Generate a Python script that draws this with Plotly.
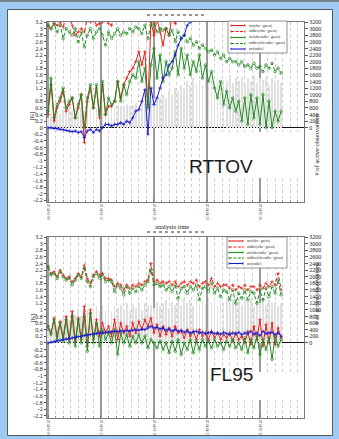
import plotly.graph_objects as go
import pandas as pd

W, H = 339, 439
START = "2014-01-08"
N = 78
dates = pd.date_range(START, periods=N, freq="2D")

legend_labels = ["avr(obs - guess)", "stddev(obs - guess)", "avr(obs radio - guess)",
                 "stddev(obs radio - guess)", "avr(radio)"]

k_ticks = [3.2, 3, 2.8, 2.6, 2.4, 2.2, 2, 1.8, 1.6, 1.4, 1.2, 1, 0.8, 0.6, 0.4, 0.2, 0,
           -0.2, -0.4, -0.6, -0.8, -1, -1.2, -1.4, -1.6, -1.8, -2, -2.2]
k_labels = ["3.2", "3", "2.8", "2.6", "2.4", "2.2", "2", "1.8", "1.6", "1.4", "1.2", "1", "0.8",
            "0.6", "0.4", "0.2", "0", "-0.2", "-0.4", "-0.6", "-0.8", "-1", "-1.2", "-1.4",
            "-1.6", "-1.8", "-2", "-2.2"]
obs_ticks = [0, 200, 400, 600, 800, 1000, 1200, 1400, 1600, 1800, 2000, 2200, 2400, 2600,
             2800, 3000, 3200]

# ---------------- RTTOV (top) ----------------
rttov_avg_obs = [0.4, 1.3, 0.2, 0.6, 0.8, 1.1, 0.5, 0.7, 0.9, 0.3,
                 0.6, 1.0, -0.45, 0.8, 1.2, 0.6, 1.2, 0.3, 1.3, 0.4,
                 0.65, 0.65, 0.8, 1.4, 0.9, 1.3, 1.5, 1.7, 1.8, 2.0,
                 2.3, 1.9, 2.3, 0.7, 3.2, 2.8, 3.3, 2.9, 2.5, 3.0,
                 2.8, 3.4, 3.15, 3.5, 3.8, 3.6, 3.9, 4.0, 3.8, 4.1,
                 4.0, 4.2, 4.1, 4.3, 4.0, 4.2, 4.1, 4.4, 4.2, 4.3,
                 4.1, 4.3, 4.2, 4.4, 4.1, 4.3, 4.2, 4.4, 4.1, 4.3,
                 4.2, 4.4, 4.1, 4.3, 4.2, 4.4, 4.1, 4.3]
rttov_std_obs = [3.1, 3.0, 3.15, 3.1, 3.2, 3.05, 3.3, 3.4, 3.1, 2.8,
                 2.9, 3.0, 2.9, 3.3, 3.2, 3.3, 3.1, 3.15, 3.2, 3.3,
                 3.15, 3.1, 3.4, 3.3, 3.5, 3.6, 3.5, 3.7, 3.6, 3.8,
                 3.9, 3.8, 4.0, 3.9, 4.1, 4.2, 4.0, 4.3, 4.2, 4.4,
                 4.3, 4.5, 4.4, 4.6, 4.5, 4.7, 4.6, 4.8, 4.7, 4.9,
                 4.8, 5.0, 4.9, 5.0, 4.8, 5.1, 4.9, 5.0, 4.8, 5.0,
                 4.9, 5.1, 4.8, 5.0, 4.9, 5.1, 4.8, 5.0, 4.9, 5.1,
                 4.8, 5.0, 4.9, 5.1, 4.8, 5.0, 4.9, 5.0]
rttov_avg_rad = [0.5, 1.5, 0.3, 0.7, 0.9, 1.2, 0.6, 0.8, 0.9, 0.3,
                 0.7, 1.0, 0.0, 0.9, 1.3, 0.6, 1.3, 0.4, 1.4, 0.4,
                 0.9, 0.7, 0.8, 1.4, 0.8, 1.3, 1.0, 1.4, 1.6, 1.5,
                 2.0, 1.4, 1.8, 0.6, 1.9, 2.4, 1.5, 2.2, 1.4, 2.0,
                 1.6, 1.8, 2.3, 1.6, 2.4, 1.8, 2.2, 1.6, 2.0, 1.7,
                 2.2, 1.5, 1.9, 1.4, 1.7, 1.2, 0.9, 1.4, 0.7, 1.1,
                 0.6, 0.9, 0.5, 0.8, 0.2, 0.9, 0.1, 1.0, 0.3, 0.9,
                 0.1, 1.0, 0.0, 0.8, 0.0, 0.5, 0.2, 0.5]
rttov_std_rad = [3.1, 3.0, 3.15, 2.9, 3.1, 2.7, 3.0, 2.9, 2.8, 3.0,
                 2.6, 2.9, 2.45, 2.8, 3.0, 2.7, 2.9, 3.0, 2.8, 2.5,
                 2.9, 2.7, 2.85, 3.0, 2.8, 2.9, 2.85, 3.0, 2.9, 3.05,
                 3.0, 2.85, 3.1, 2.7, 3.1, 3.15, 2.9, 3.0, 2.95, 3.0,
                 2.8, 2.95, 2.6, 2.9, 2.7, 2.8, 2.6, 2.7, 2.5, 2.6,
                 2.4, 2.5, 2.4, 2.3, 2.35, 2.2, 2.3, 2.1, 2.2, 2.0,
                 2.1, 2.0, 2.0, 1.9, 2.0, 1.85, 1.9, 1.8, 1.95, 1.8,
                 1.85, 1.7, 1.9, 1.8, 1.95, 1.7, 1.8, 1.65]
rttov_avg_radio = [0.0, 0.0, -0.02, -0.03, -0.05, -0.06, -0.08, -0.1, -0.12, -0.1,
                   -0.15, -0.12, -0.3, -0.1, -0.05, -0.15, -0.05, -0.1, 0.0, 0.1,
                   0.1, 0.05, 0.1, 0.1, 0.15, 0.1, 0.2, 0.15, 0.3, 0.5,
                   0.55, 0.8, 1.15, -0.2, 1.2, 0.7, 0.9, 1.2, 1.5, 1.6,
                   1.9, 2.0, 2.2, 2.5, 2.7, 2.8, 3.1, 3.2, 3.25, 3.3,
                   3.4, 3.5, 3.45, 3.6, 3.55, 3.7, 3.65, 3.8, 3.7, 3.75,
                   3.85, 3.8, 3.9, 3.85, 3.95, 3.9, 4.0, 3.95, 4.05, 4.0,
                   4.1, 4.05, 4.1, 4.15, 4.1, 4.2, 4.15, 4.2]
rttov_nobs = [300, 400, 450, 500, 400, 550, 500, 600, 500, 550,
              450, 600, 500, 550, 600, 500, 600, 550, 650, 600,
              550, 650, 600, 700, 650, 600, 700, 650, 700, 750,
              700, 800, 750, 850, 800, 900, 850, 900, 1000, 900,
              1100, 1000, 1200, 1100, 1300, 1200, 1400, 1300, 1500, 1350,
              1450, 1300, 1500, 1350, 1550, 1400, 1500, 1300, 1450, 1400,
              1600, 1350, 1500, 1400, 1550, 1300, 1500, 1400, 1600, 1350,
              1500, 1450, 1550, 1300, 1500, 1400, 1450, 1350]

# ---------------- FL95 (bottom) ----------------
fl95_avg_obs = [0.5, 0.3, 0.75, 0.2, 0.65, 0.15, 0.8, 0.1, 0.95, 0.05,
                0.75, 0.1, 1.1, -0.1, 1.0, 0.1, 0.7, 0.2, 0.6, 0.3,
                0.5, 0.2, 0.7, 0.1, 0.6, 0.3, 0.5, 0.2, 0.6, 0.3,
                0.65, 0.4, 0.7, 0.5, 0.75, 0.3, 0.55, 0.2, 0.5, 0.25,
                0.45, 0.2, 0.5, 0.3, 0.35, 0.15, 0.4, 0.2, 0.35, 0.1,
                0.4, 0.2, 0.3, 0.1, 0.35, 0.15, 0.3, 0.1, 0.25, 0.15,
                0.3, 0.05, 0.3, 0.1, 0.2, 0.0, 0.35, -0.05, 0.5, 0.1,
                0.7, -0.1, 0.55, 0.0, 0.6, -0.05, 0.45, 0.15]
fl95_std_obs = [2.3, 2.1, 2.15, 2.0, 2.2, 2.05, 1.95, 2.0, 1.85, 1.95,
                2.1, 2.0, 2.35, 1.95, 1.8, 2.05, 2.15, 2.05, 2.1, 1.95,
                1.95, 1.9, 1.7, 1.8, 1.75, 1.6, 1.75, 1.65, 1.75, 1.7,
                1.8, 1.75, 1.85, 1.9, 2.4, 1.85, 1.9, 1.8, 1.85, 1.8,
                1.85, 1.75, 1.85, 1.7, 1.8, 1.85, 1.75, 1.85, 1.8, 1.9,
                1.7, 1.8, 1.85, 1.75, 1.95, 1.7, 1.8, 1.7, 1.75, 1.75,
                1.65, 1.75, 1.6, 1.7, 1.65, 1.75, 1.6, 1.7, 1.7, 1.6,
                1.75, 1.65, 1.8, 1.7, 1.85, 1.75, 2.1, 1.6]
fl95_avg_rad = [0.5, 0.25, 0.7, 0.1, 0.6, 0.05, 0.7, 0.0, 0.8, -0.1,
                0.7, 0.0, 0.8, -0.25, 0.9, 0.0, 0.6, -0.1, 0.4, 0.1,
                0.3, 0.0, 0.4, -0.35, 0.3, 0.0, 0.25, -0.1, 0.2, 0.0,
                0.25, 0.0, 0.2, -0.15, 0.1, 0.0, -0.15, 0.05, -0.2, 0.0,
                -0.3, 0.05, -0.25, 0.1, -0.35, 0.0, -0.2, 0.1, -0.3, 0.05,
                -0.2, 0.1, -0.1, 0.05, -0.15, 0.1, -0.1, 0.0, -0.2, 0.05,
                -0.1, 0.1, -0.15, 0.0, -0.2, 0.15, -0.3, 0.1, -0.15, 0.2,
                -0.35, 0.1, -0.2, 0.15, -0.5, 0.2, -0.1, 0.1]
fl95_std_rad = [2.3, 2.05, 2.1, 1.95, 2.15, 2.0, 1.9, 1.95, 1.75, 1.9,
                2.05, 1.95, 2.25, 1.85, 1.7, 2.0, 2.1, 1.95, 2.05, 1.85,
                1.9, 1.85, 1.55, 1.75, 1.65, 1.45, 1.7, 1.5, 1.65, 1.55,
                1.7, 1.6, 1.75, 1.85, 2.2, 1.75, 1.8, 1.7, 1.75, 1.6,
                1.7, 1.55, 1.75, 1.35, 1.65, 1.7, 1.5, 1.7, 1.6, 1.75,
                1.3, 1.65, 1.7, 1.55, 1.8, 1.5, 1.65, 1.4, 1.6, 1.55,
                1.3, 1.6, 1.2, 1.5, 1.35, 1.6, 1.3, 1.55, 1.5, 1.2,
                1.6, 1.3, 1.65, 1.4, 1.7, 1.5, 1.9, 1.45]
fl95_avg_radio = [0.0, 0.02, 0.04, 0.06, 0.08, 0.1, 0.12, 0.14, 0.15, 0.17,
                  0.19, 0.2, 0.22, 0.24, 0.25, 0.27, 0.28, 0.3, 0.3, 0.32,
                  0.33, 0.33, 0.35, 0.34, 0.36, 0.35, 0.37, 0.36, 0.38, 0.4,
                  0.38, 0.42, 0.4, 0.45, 0.5, 0.45, 0.47, 0.42, 0.45, 0.38,
                  0.42, 0.36, 0.4, 0.35, 0.38, 0.32, 0.36, 0.3, 0.33, 0.35,
                  0.3, 0.32, 0.28, 0.3, 0.33, 0.28, 0.3, 0.26, 0.32, 0.28,
                  0.25, 0.3, 0.27, 0.32, 0.25, 0.3, 0.28, 0.35, 0.26, 0.3,
                  0.22, 0.35, 0.28, 0.3, 0.32, 0.25, 0.3, 0.2]
fl95_nobs = [350, 450, 500, 550, 600, 750, 800, 700, 900, 850,
             1000, 800, 950, 1000, 900, 1050, 1100, 950, 1100, 1000,
             1200, 950, 1100, 1050, 1150, 1000, 1200, 950, 1150, 1050,
             1250, 1000, 1200, 1100, 1150, 1050, 1250, 1100, 1200, 1300,
             1050, 1250, 1150, 1300, 1100, 1350, 1200, 1300, 1100, 1400,
             1200, 1300, 1150, 1350, 1200, 1400, 1100, 1300, 1250, 1350,
             1150, 1300, 1200, 1400, 1150, 1300, 1250, 1350, 1100, 1300,
             1200, 1350, 1150, 1300, 1200, 1250, 1100, 1200]

for arr in [rttov_avg_obs, rttov_std_obs, rttov_avg_rad, rttov_std_rad, rttov_avg_radio, rttov_nobs,
            fl95_avg_obs, fl95_std_obs, fl95_avg_rad, fl95_std_rad, fl95_avg_radio, fl95_nobs]:
    assert len(arr) == N, len(arr)

RED = "#e4221b"
GREEN = "#1f8a1f"
BLUE = "#1818d0"
BARC = "#e0e0e0"
DAY = 86400000
SERIF = "Liberation Serif"


def px(x):
    return x / W


def py(y):
    return 1 - y / H


fig = go.Figure()

styles = [
    (RED, "solid", "cross-thin-open"),
    (RED, "4px,2px", "cross-thin-open"),
    (GREEN, "solid", "circle-open"),
    (GREEN, "4px,2px", "circle-open"),
    (BLUE, "solid", "cross-thin-open"),
]


def add_panel(xa, ya_obs, ya_k, nobs, series):
    fig.add_trace(go.Bar(x=dates, y=nobs, xaxis=xa, yaxis=ya_obs, width=1.15 * DAY,
                         marker=dict(color=BARC, line=dict(width=0)),
                         showlegend=False, hoverinfo="skip"))
    for idx in range(5):
        col, dash, sym = styles[idx]
        fig.add_trace(go.Scatter(
            x=dates, y=series[idx], xaxis=xa, yaxis=ya_k, mode="lines+markers",
            name=legend_labels[idx], showlegend=False,
            line=dict(color=col, width=1.0, dash=dash),
            marker=dict(symbol=sym, size=2.6, color=col, line=dict(color=col, width=0.7))))


add_panel("x", "y", "y2", rttov_nobs,
          [rttov_avg_obs, rttov_std_obs, rttov_avg_rad, rttov_std_rad, rttov_avg_radio])
add_panel("x2", "y3", "y4", fl95_nobs,
          [fl95_avg_obs, fl95_std_obs, fl95_avg_rad, fl95_std_rad, fl95_avg_radio])

x_range = [pd.Timestamp(START) - pd.Timedelta(hours=16), pd.Timestamp(START) + pd.Timedelta(days=169.1)]

xcommon = dict(
    type="date", range=x_range, domain=[px(47), px(304)], automargin=False,
    tick0=START, dtick=35 * DAY, tickformat="%Y-%m-%d", tickangle=90,
    tickfont=dict(family=SERIF, size=3.5, color="#333"),
    showgrid=True, gridcolor="#9a9a9a", gridwidth=1.3,
    ticks="inside", ticklen=3, tickcolor="#777",
    minor=dict(dtick=5 * DAY, tick0=START, showgrid=True, gridcolor="#c6c6c6",
               griddash="dot", gridwidth=0.9, ticks="inside", ticklen=2, tickcolor="#999"),
    showline=True, mirror=True, linecolor="#7a7a7a", linewidth=1, zeroline=False,
)


def obs_axis(anchor, dom, lo):
    return dict(anchor=anchor, domain=dom, side="right", range=[lo, 3200], automargin=False,
                tickvals=obs_ticks, ticks="outside", ticklen=3, tickcolor="#555",
                tickfont=dict(family=SERIF, size=6, color="#222"),
                showgrid=False, zeroline=False, showline=True, mirror=True,
                linecolor="#7a7a7a", linewidth=1)


def k_axis(anchor, over, lo):
    return dict(anchor=anchor, overlaying=over, side="left", range=[lo, 3.2], automargin=False,
                tickvals=k_ticks, ticktext=k_labels, ticks="outside", ticklen=2,
                tickcolor="#555", tickfont=dict(family=SERIF, size=6, color="#222"),
                showgrid=False, zeroline=True, zerolinecolor="#111", zerolinewidth=1.1,
                showline=False)


shapes = []
annotations = []

# window / panel frame
shapes.append(dict(type="rect", xref="paper", yref="paper", x0=px(7.5), x1=px(332.5),
                   y0=py(435.5), y1=py(9.5), fillcolor="white",
                   line=dict(color="#5a5a5a", width=1), layer="below"))
shapes.append(dict(type="line", xref="paper", yref="paper", x0=0, x1=1, y0=py(1), y1=py(1),
                   line=dict(color="#6a6a6a", width=1.5), layer="below"))

# dotted underlines of cut titles
for yy in (15, 232):
    shapes.append(dict(type="line", xref="paper", yref="paper", x0=px(147), x1=px(205),
                       y0=py(yy), y1=py(yy), line=dict(color="#333", width=1, dash="dot")))

# label boxes
for (x0, x1, y0, y1) in [(214, 302, 132, 178), (212, 303, 372, 400)]:
    shapes.append(dict(type="rect", xref="paper", yref="paper", x0=px(x0), x1=px(x1),
                       y0=py(y1), y1=py(y0), fillcolor="white", line=dict(width=0),
                       layer="above"))

annotations.append(dict(text="RTTOV", x=px(255), y=py(166.5), xref="paper", yref="paper",
                        showarrow=False, font=dict(family="Liberation Sans", size=19, color="#1a1a1a")))
annotations.append(dict(text="FL95", x=px(255), y=py(386.5), xref="paper", yref="paper",
                        showarrow=False, font=dict(family="Liberation Sans", size=19, color="#1a1a1a")))

annotations.append(dict(text="analysis time", x=px(172), y=py(226), xref="paper", yref="paper",
                        showarrow=False, font=dict(family=SERIF, size=6.5, color="#222")))
for yc in (110, 325):
    annotations.append(dict(text="[K]", x=px(26), y=py(yc), xref="paper", yref="paper",
                            showarrow=False, textangle=-90,
                            font=dict(family=SERIF, size=6.5, color="#222")))
for yc in (112, 327):
    annotations.append(dict(text="# of active observations", x=px(321), y=py(yc),
                            xref="paper", yref="paper", showarrow=False, textangle=-90,
                            font=dict(family=SERIF, size=6.5, color="#222")))


def add_legend(bx0, bx1, by0, by1, rows, sx0, sx1, tx):
    shapes.append(dict(type="rect", xref="paper", yref="paper", x0=px(bx0), x1=px(bx1),
                       y0=py(by1), y1=py(by0), fillcolor="white",
                       line=dict(color="#777", width=0.8), layer="above"))
    for i, ry in enumerate(rows):
        col, dash, sym = styles[i]
        shapes.append(dict(type="line", xref="paper", yref="paper", x0=px(sx0), x1=px(sx1),
                           y0=py(ry), y1=py(ry), layer="above",
                           line=dict(color=col, width=1.1,
                                     dash="solid" if dash == "solid" else "3px,1.5px")))
        for ex in (sx0, sx1):
            shapes.append(dict(type="line", xref="paper", yref="paper", x0=px(ex), x1=px(ex),
                               y0=py(ry - 1.2), y1=py(ry + 1.2), layer="above",
                               line=dict(color=col, width=0.8)))
        annotations.append(dict(text=legend_labels[i], x=px(tx), y=py(ry), xref="paper",
                                yref="paper", xanchor="left", yanchor="middle",
                                showarrow=False,
                                font=dict(family=SERIF, size=3.6, color="#222")))


add_legend(228, 287, 21, 53, [25.5, 31.5, 37.5, 43.5, 49], 231, 245, 247)
add_legend(227, 287, 237, 268, [241, 247, 252.5, 258, 263.5], 229, 243, 245)

fig.update_layout(
    width=W, height=H, margin=dict(l=0, r=0, t=0, b=0, autoexpand=False),
    paper_bgcolor="#9ecbf4", plot_bgcolor="white",
    showlegend=False, bargap=0, hovermode=False,
    xaxis=dict(xcommon, anchor="y"),
    xaxis2=dict(xcommon, anchor="y3"),
    yaxis=obs_axis("x", [py(202), py(22)], -2250),
    yaxis2=k_axis("x", "y", -2.25),
    yaxis3=obs_axis("x2", [py(418), py(237)], -2270),
    yaxis4=k_axis("x2", "y3", -2.27),
    shapes=shapes, annotations=annotations,
)

fig.write_html("out.html", config={"displayModeBar": False, "staticPlot": True},
               post_script="document.body.style.margin='0px';document.body.style.padding='0px';"
                           "document.body.style.overflow='hidden';")
